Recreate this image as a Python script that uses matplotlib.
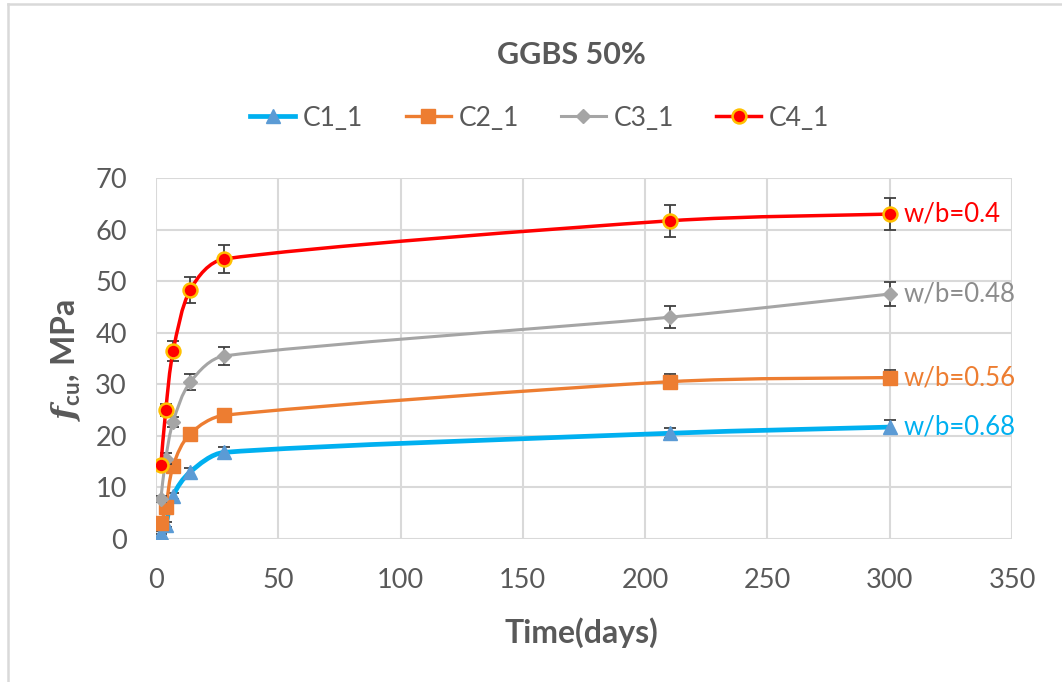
import numpy as np
import matplotlib
matplotlib.use("Agg")
import matplotlib.pyplot as plt
from matplotlib.path import Path
from matplotlib.patches import PathPatch
from matplotlib.lines import Line2D

plt.rcParams["font.family"] = ["Lato", "DejaVu Sans"]
plt.rcParams["mathtext.fontset"] = "custom"
plt.rcParams["mathtext.it"] = "DejaVu Serif:italic:bold"
plt.rcParams["mathtext.rm"] = "Lato:bold"
plt.rcParams["mathtext.bf"] = "Lato:bold"

# curing age (days) and cube strength (MPa) per mix
days = [2, 4, 7, 14, 28, 210, 300]
c1_1 = [1.2, 2.8, 8.4, 13.0, 16.8, 20.5, 21.7]
c2_1 = [3.1, 6.2, 14.2, 20.4, 24.0, 30.5, 31.3]
c3_1 = [7.8, 15.6, 22.7, 30.4, 35.5, 43.0, 47.5]
c4_1 = [14.3, 25.0, 36.4, 48.3, 54.3, 61.7, 63.0]

# standard deviations
c1_err = [0.3, 0.5, 0.6, 0.8, 1.0, 1.0, 1.3]
c2_err = [0.4, 0.6, 0.8, 0.8, 0.9, 1.5, 1.4]
c3_err = [0.6, 1.0, 1.0, 1.6, 1.8, 2.1, 2.4]
c4_err = [0.8, 1.2, 1.9, 2.5, 2.7, 3.1, 3.1]

series_names = ["C1_1", "C2_1", "C3_1", "C4_1"]
wb_labels = ["w/b=0.68", "w/b=0.56", "w/b=0.48", "w/b=0.4"]

TEXT = "#595959"
GRID = "#D9D9D9"
W, H = 1062, 682


def smooth_path(ax, x, y):
    # smoothed line like excel's: bezier segments built in pixel space,
    # handles follow the neighbour chord but never exceed a third of the segment
    trans = ax.transData
    pts = trans.transform(np.column_stack([x, y]).astype(float))
    n = len(pts)
    tang = []
    for i in range(n):
        a = pts[max(i - 1, 0)]
        b = pts[min(i + 1, n - 1)]
        d = b - a
        tang.append((d / np.hypot(*d), np.hypot(*d) / 6.0))
    verts = [pts[0]]
    codes = [Path.MOVETO]
    for i in range(n - 1):
        seg = np.hypot(*(pts[i + 1] - pts[i])) / 3.0
        d0, l0 = tang[i]
        d1, l1 = tang[i + 1]
        verts += [pts[i] + d0 * min(l0, seg), pts[i + 1] - d1 * min(l1, seg), pts[i + 1]]
        codes += [Path.CURVE4] * 3
    verts = trans.inverted().transform(np.array(verts))
    return Path(verts, codes)


styles = [
    dict(line="#00B0F0", lw=3.4, marker="^", mfc="#5B9BD5", mec="#5B9BD5", ms=10.5, mew=1),
    dict(line="#ED7D31", lw=2.4, marker="s", mfc="#ED7D31", mec="#ED7D31", ms=10, mew=1),
    dict(line="#A5A5A5", lw=2.2, marker="D", mfc="#A5A5A5", mec="#A5A5A5", ms=7.5, mew=1),
    dict(line="#FF0000", lw=2.5, marker="o", mfc="#FF0000", mec="#FFC000", ms=10, mew=1.8),
]
label_colors = ["#00B0F0", "#ED7D31", "#8C8C8C", "#FF0000"]

fig = plt.figure(figsize=(W / 100, H / 100), dpi=100)
ax = fig.add_axes([156 / W, 1 - 539 / H, (1012 - 156) / W, (539 - 178) / H])
ax.set_xlim(0, 350)
ax.set_ylim(0, 70)

all_vals = [c1_1, c2_1, c3_1, c4_1]
all_errs = [c1_err, c2_err, c3_err, c4_err]
handles = []
for k, (vals, errs, st) in enumerate(zip(all_vals, all_errs, styles)):
    z = 3 + k
    ax.errorbar(days, vals, yerr=errs, fmt="none", ecolor="#404040",
                elinewidth=1.3, capsize=4, capthick=1.3, zorder=z)
    ax.add_patch(PathPatch(smooth_path(ax, days, vals), fill=False,
                           edgecolor=st["line"], lw=st["lw"], zorder=z,
                           capstyle="round"))
    ax.plot(days, vals, ls="none", marker=st["marker"], ms=st["ms"],
            mfc=st["mfc"], mec=st["mec"], mew=st["mew"], zorder=z + 0.5)
    handles.append(Line2D([], [], color=st["line"], lw=st["lw"],
                          marker=st["marker"], ms=st["ms"], mfc=st["mfc"],
                          mec=st["mec"], mew=st["mew"]))
    ax.annotate(wb_labels[k], (days[-1], vals[-1]), xytext=(10, 0),
                textcoords="offset points", va="center", ha="left",
                fontsize=18.5, color=label_colors[k], zorder=10)

ax.set_xticks(np.arange(0, 351, 50))
ax.set_yticks(np.arange(0, 71, 10))
ax.grid(True, color=GRID, lw=1.5)
ax.set_axisbelow(True)
for s in ax.spines.values():
    s.set_visible(False)
ax.tick_params(length=0, labelsize=19.5, colors=TEXT)
ax.tick_params(axis="x", pad=21)
ax.tick_params(axis="y", pad=21)

fig.text(581 / W, 1 - 633 / H, "Time(days)", ha="center", va="center",
         fontsize=23, fontweight="bold", color=TEXT)
fig.text(66 / W, 1 - 360 / H, r"$f_{\mathrm{cu}}$, MPa", ha="center", va="center",
         rotation=90, fontsize=23, fontweight="bold", color=TEXT)

fig.text(571 / W, 1 - 55 / H, "GGBS 50%", ha="center", va="center",
         fontsize=22, fontweight="bold", color=TEXT)
fig.legend(handles, series_names, loc="center", bbox_to_anchor=(540 / W, 1 - 118 / H),
           ncol=4, frameon=False, fontsize=19, labelcolor=TEXT, handlelength=1.7,
           handletextpad=0.3, columnspacing=1.6)

# chart area border
fig.add_artist(Line2D([8 / W, 1], [1 - 4 / H] * 2, color=GRID, lw=1.8))
fig.add_artist(Line2D([8 / W] * 2, [0, 1 - 4 / H], color=GRID, lw=1.8))

fig.savefig("out.png", dpi=100)
